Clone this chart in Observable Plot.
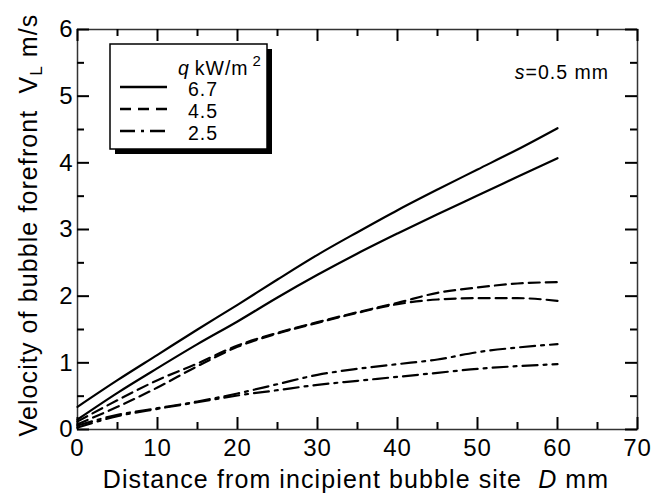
<!DOCTYPE html>
<html><head><meta charset="utf-8">
<script src="https://cdn.jsdelivr.net/npm/d3@7"></script>
<script src="https://cdn.jsdelivr.net/npm/@observablehq/plot@0.6"></script>
<style>
body{margin:0;background:#fff;}
#chart{position:relative;width:668px;height:495px;}
</style></head><body><div id="chart"></div>
<script>
// Distance from incipient bubble site D (mm)
const distance = [0, 5, 10, 15, 20, 25, 30, 35, 40, 45, 50, 55, 60];
// Velocity of bubble forefront V_L (m/s), two runs per heat flux
const v67a = [0.34, 0.74, 1.12, 1.50, 1.87, 2.25, 2.62, 2.96, 3.29, 3.60, 3.90, 4.20, 4.52];
const v67b = [0.15, 0.55, 0.92, 1.28, 1.62, 1.98, 2.32, 2.64, 2.94, 3.23, 3.51, 3.79, 4.07];
const v45a = [0.12, 0.44, 0.74, 0.99, 1.26, 1.45, 1.61, 1.76, 1.90, 2.05, 2.13, 2.19, 2.21];
const v45b = [0.08, 0.34, 0.63, 0.95, 1.24, 1.44, 1.60, 1.75, 1.88, 1.95, 1.97, 1.97, 1.93];
const v25a = [0.06, 0.22, 0.32, 0.42, 0.54, 0.68, 0.82, 0.91, 0.98, 1.05, 1.16, 1.23, 1.28];
const v25b = [0.03, 0.20, 0.31, 0.41, 0.51, 0.59, 0.67, 0.73, 0.79, 0.85, 0.91, 0.95, 0.98];
const heatFlux = ["6.7", "4.5", "2.5"];
const xTicks = [0, 10, 20, 30, 40, 50, 60, 70];
const xMinorTicks = [5, 15, 25, 35, 45, 55, 65];
const yTicks = [0, 1, 2, 3, 4, 5, 6];
const yMinorTicks = [0.5, 1.5, 2.5, 3.5, 4.5, 5.5];

const series = [
  {q: "6.7", run: "a", values: v67a},
  {q: "6.7", run: "b", values: v67b},
  {q: "4.5", run: "a", values: v45a},
  {q: "4.5", run: "b", values: v45b},
  {q: "2.5", run: "a", values: v25a},
  {q: "2.5", run: "b", values: v25b}
];
const rows = series.flatMap(s => distance.map((d, i) => ({D: d, V: s.values[i], q: s.q, key: s.q + s.run})));
const dashes = {"6.7": null, "4.5": "11,6", "2.5": "15,6,3,6"};

const font = "'Liberation Sans', Arial, sans-serif";
const W = 668, H = 495, mL = 77, mR = 31, mT = 29, mB = 66;
const pw = W - mL - mR, ph = H - mT - mB;
const major = 12, minor = 7;
const tk = {stroke: "#000", strokeWidth: 2};

const plot = Plot.plot({
  width: W, height: H,
  marginLeft: mL, marginRight: mR, marginTop: mT, marginBottom: mB,
  style: {fontFamily: font, background: "#fff"},
  x: {domain: [0, 70]},
  y: {domain: [0, 6]},
  marks: [
    Plot.frame({stroke: "#333", strokeWidth: 1.5}),
    Plot.tickX(xTicks, {x: d => d, insetTop: ph - major, ...tk}),
    Plot.tickX(xMinorTicks, {x: d => d, insetTop: ph - minor, ...tk}),
    Plot.tickX(xTicks, {x: d => d, insetBottom: ph - major, ...tk}),
    Plot.tickX(xMinorTicks, {x: d => d, insetBottom: ph - minor, ...tk}),
    Plot.tickY(yTicks, {y: d => d, insetRight: pw - major, ...tk}),
    Plot.tickY(yMinorTicks, {y: d => d, insetRight: pw - minor, ...tk}),
    Plot.tickY(yTicks, {y: d => d, insetLeft: pw - major, ...tk}),
    Plot.tickY(yMinorTicks, {y: d => d, insetLeft: pw - minor, ...tk}),
    ...heatFlux.map(q => Plot.line(rows.filter(r => r.q === q), {
      x: "D", y: "V", z: "key", stroke: "#000", strokeWidth: 2.2,
      strokeDasharray: dashes[q], curve: "monotone-x"
    })),
    Plot.axisX(xTicks, {anchor: "bottom", tickSize: 0, tickPadding: 9, label: null, tickFormat: d => String(d)}),
    Plot.axisY(yTicks, {anchor: "left", tickSize: 0, tickPadding: 4, label: null, tickFormat: d => String(d)})
  ]
});
document.getElementById("chart").appendChild(plot);

const svg = d3.select(plot);
svg.selectAll("g[aria-label$='tick label'] text").attr("font-size", 24).attr("letter-spacing", "1px").attr("fill", "#000");

// Axis titles
const xt = svg.append("text").attr("x", 356).attr("y", 488).attr("text-anchor", "middle")
  .attr("font-size", 25).attr("letter-spacing", "1.1px").attr("font-family", font).attr("fill", "#000");
xt.append("tspan").text("Distance from incipient bubble site\u00a0\u00a0");
xt.append("tspan").attr("font-style", "italic").text("D");
xt.append("tspan").text(" mm");

const yt = svg.append("text").attr("transform", "translate(37,225) rotate(-90)").attr("text-anchor", "middle")
  .attr("font-size", 25).attr("letter-spacing", "1.1px").attr("font-family", font).attr("fill", "#000");
yt.append("tspan").text("Velocity of bubble forefront\u00a0\u00a0V");
yt.append("tspan").attr("font-size", 17).attr("dy", 5).text("L");
yt.append("tspan").attr("dy", -5).text(" m/s");

// annotation
const sa = svg.append("text").attr("x", 609).attr("y", 79).attr("text-anchor", "end")
  .attr("font-size", 19.5).attr("letter-spacing", "1px").attr("font-family", font).attr("fill", "#000");
sa.append("tspan").attr("font-style", "italic").text("s");
sa.append("tspan").text("=0.5 mm");

// legend
const lg = svg.append("g");
lg.append("rect").attr("x", 115).attr("y", 49).attr("width", 157).attr("height", 105).attr("fill", "#000");
lg.append("rect").attr("x", 110).attr("y", 44).attr("width", 157).attr("height", 105)
  .attr("fill", "#fff").attr("stroke", "#000").attr("stroke-width", 1.5);
const lt = lg.append("text").attr("x", 178).attr("y", 75).attr("text-anchor", "start")
  .attr("font-size", 19.5).attr("letter-spacing", "1px").attr("font-family", font).attr("fill", "#000");
lt.append("tspan").attr("font-style", "italic").text("q");
lt.append("tspan").text("\u2009kW/m");
lt.append("tspan").attr("font-size", 15).attr("dx", 4).attr("dy", -9).text("2");
const legendLineY = [87, 109, 131];
const legendTextY = [96, 118, 140];
heatFlux.forEach((q, i) => {
  lg.append("line").attr("x1", 120).attr("x2", 167).attr("y1", legendLineY[i]).attr("y2", legendLineY[i])
    .attr("stroke", "#000").attr("stroke-width", 2.5)
    .attr("stroke-dasharray", q === "4.5" ? "11,7" : q === "2.5" ? "15,6,3,6" : null);
  lg.append("text").attr("x", 188).attr("y", legendTextY[i]).attr("text-anchor", "start")
    .attr("font-size", 19.5).attr("letter-spacing", "1px").attr("font-family", font)
    .attr("fill", "#000").text(q);
});
</script></body></html>
